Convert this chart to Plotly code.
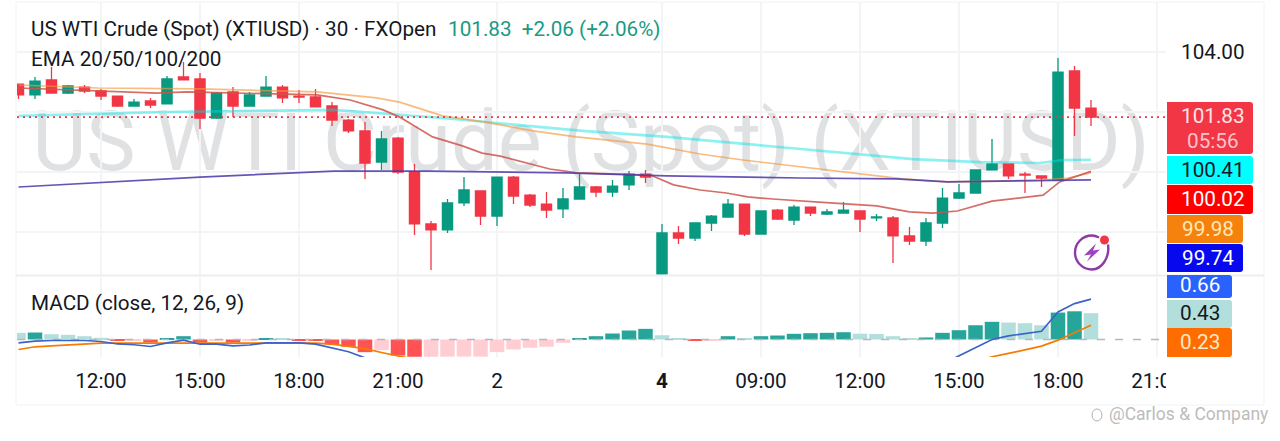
import plotly.graph_objects as go

W, H = 1280, 441

opens = [102.93,102.57,103.07,102.63,102.83,102.70,102.53,102.20,102.37,102.27,103.17,103.10,101.80,102.67,102.20,102.53,102.83,102.53,102.50,102.20,101.73,101.37,100.33,101.13,100.00,98.27,98.07,98.97,99.37,98.53,99.83,99.23,98.93,98.77,99.10,99.50,99.33,99.57,99.93,96.60,97.97,97.80,98.30,98.50,98.93,97.93,98.73,98.40,98.83,98.60,98.63,98.70,98.47,98.47,97.87,97.70,98.30,99.13,99.30,100.07,100.27,99.93,99.87,99.73,103.37,102.13]
highs = [102.93,103.17,103.50,102.90,102.90,102.77,102.53,102.43,102.47,103.20,103.67,103.30,102.67,102.83,102.67,103.20,102.90,102.73,102.77,102.33,101.77,101.67,101.37,101.17,100.27,98.37,99.10,99.83,99.37,99.83,99.87,99.27,99.33,99.47,99.93,99.53,99.73,100.03,100.07,98.27,98.20,98.30,98.57,99.10,98.93,98.70,98.77,98.90,98.83,98.77,99.00,98.70,98.60,98.53,98.17,98.47,99.47,99.60,100.07,101.10,100.27,100.00,99.87,103.80,103.53,102.40]
lows = [102.43,102.43,102.63,102.60,102.63,102.40,102.17,102.20,102.13,102.27,103.07,101.43,101.77,101.83,102.20,102.53,102.30,102.30,102.17,101.53,101.30,99.77,100.07,99.93,97.90,96.73,97.97,98.87,98.23,98.20,98.93,98.83,98.47,98.47,99.10,99.17,99.17,99.40,99.63,96.57,97.60,97.70,98.03,98.50,97.87,97.93,98.40,98.23,98.53,98.57,98.63,98.00,98.37,96.97,97.57,97.53,98.13,99.10,99.30,100.07,99.77,99.30,99.50,99.73,101.20,101.53]
closes = [102.57,103.03,102.63,102.87,102.70,102.53,102.20,102.33,102.23,103.10,103.07,101.80,102.63,102.20,102.57,102.83,102.47,102.50,102.17,101.73,101.37,100.30,101.10,100.00,98.27,98.07,98.97,99.40,98.53,99.83,99.20,98.90,98.73,99.10,99.50,99.33,99.53,99.93,99.83,97.97,97.80,98.30,98.53,98.93,97.93,98.70,98.43,98.83,98.63,98.67,98.73,98.43,98.50,97.87,97.70,98.30,99.13,99.30,100.07,100.27,99.87,99.90,99.80,103.33,102.13,101.83]

ema20_x = [0,5,8.4,10.2,13,18.1,20.1,22.1,23.1,25.1,26.9,28.1,29.2,30.8,32.2,33.9,36.3,38.3,39.7,41.3,42.9,44.2,45.7,47.4,49.2,52,54,55.4,56.9,59,62.1,63.1,65]
ema20 = [102.80,102.70,102.63,102.67,102.63,102.57,102.40,102.07,101.83,101.17,100.87,100.63,100.53,100.30,100.10,99.97,99.93,99.90,99.57,99.40,99.30,99.17,99.10,99.03,98.97,98.87,98.67,98.63,98.70,99.03,99.23,99.67,100.02]
ema50_x = [0,4.8,11,18.1,21.7,23.1,25.7,28.2,31.2,33.8,38.1,41.3,43.9,47.4,50.2,53.6,56.3,60.1,62.1,63.6,65]
ema50 = [102.90,102.80,102.77,102.67,102.47,102.33,101.87,101.67,101.37,101.17,100.93,100.60,100.40,100.17,100.00,99.77,99.67,99.70,99.73,99.80,99.98]
ema100_x = [0,9,19.1,21.7,25,25.7,30.2,34.2,39.3,43.3,47.4,50.2,54.2,58.3,61.9,63.3,65]
ema100 = [101.87,102.00,102.07,101.97,101.83,101.80,101.57,101.37,101.17,100.97,100.77,100.63,100.43,100.33,100.30,100.40,100.41]
ema200_x = [0,11,19.1,24.9,33.2,39.3,47.4,53.2,56.3,65]
ema200 = [99.50,99.83,100.03,100.03,99.97,99.87,99.80,99.77,99.67,99.74]

hist = [.109,.114,.086,.077,.054,.028,-.024,-.024,-.049,.016,.054,-.049,-.024,-.049,-.024,.016,.011,-.011,-.024,-.082,-.119,-.207,-.174,-.261,-.282,-.282,-.28,-.28,-.28,-.207,-.163,-.135,-.119,-.054,.016,.054,.098,.147,.174,.07,.011,-.011,-.011,.054,.016,.054,.065,.093,.103,.109,.119,.095,.091,.054,.016,.033,.109,.152,.233,.289,.277,.266,.233,.44,.461,.43]
macd_x = list(range(0, 23)) + list(range(56, 66))
macd = [-.054,-.028,-.016,-.016,-.016,-.033,-.073,-.086,-.114,-.054,-.011,-.077,-.077,-.103,-.09,-.054,-.054,-.054,-.077,-.142,-.2,-.3,-.4,-.4,-.266,-.13,0,.06,.098,.135,.451,.587,.66]
signal_x = list(range(0, 26)) + list(range(58, 66))
signal = [-.163,-.119,-.105,-.09,-.077,-.06,-.06,-.06,-.06,-.062,-.064,-.065,-.064,-.063,-.062,-.06,-.06,-.06,-.06,-.076,-.109,-.15,-.212,-.272,-.33,-.38,-.36,-.282,-.228,-.174,-.109,-.011,.114,.233]

tick_idx = [5,11,17,23,29,39,45,51,57,63,69]
tick_txt = ["12:00","15:00","18:00","21:00","2","<b>4</b>","09:00","12:00","15:00","18:00","21:00"]
grid_prices = [104,102,100,98]
last_price = 101.83

GREEN, RED = "#089981", "#F23645"
FONT = "Roboto"
INK = "#131722"
FS = 20.7

def fx(x): return x / W
def fy(y): return 1 - y / H

PL, PR = 17, 1166
idx0, step = 18.5, 16.5
xrange_ = [(PL - idx0) / step, (PR - idx0) / step]

fig = go.Figure()

hist_colors = []
prev = None
for v in hist:
    rising = prev is not None and v >= prev
    if v >= 0:
        hist_colors.append("#26a69a" if rising else "#b2dfdb")
    else:
        hist_colors.append("#ffcdd2" if rising else "#ff5252")
    prev = v

fig.add_trace(go.Candlestick(
    x=list(range(len(opens))), open=opens, high=highs, low=lows, close=closes,
    increasing=dict(line=dict(color=GREEN, width=1.3), fillcolor=GREEN),
    decreasing=dict(line=dict(color=RED, width=1.3), fillcolor=RED),
    whiskerwidth=0, xaxis="x", yaxis="y", hoverinfo="skip"))

def line(x, y, color, w=1.6, xa="x", ya="y", dash=None):
    fig.add_trace(go.Scatter(x=x, y=y, mode="lines", xaxis=xa, yaxis=ya, hoverinfo="skip",
                             line=dict(color=color, width=w, dash=dash)))

line(ema100_x, ema100, "rgba(0,225,225,0.45)", 2.6)
line(ema50_x, ema50, "rgba(245,150,60,0.65)", 1.7)
line(ema20_x, ema20, "rgba(205,85,75,0.85)", 1.7)
line(ema200_x, ema200, "rgba(75,55,170,0.85)", 1.7)
line(xrange_, [last_price, last_price], RED, 1.6, dash="2px,4px")

fig.add_trace(go.Bar(x=list(range(len(hist))), y=hist, width=0.88, xaxis="x2", yaxis="y2",
                     marker=dict(color=hist_colors, line=dict(width=0)), hoverinfo="skip"))
line(xrange_, [0, 0], "#b5b8c0", 1.4, "x2", "y2", dash="8px,10px")
line(signal_x, signal, "#f57c00", 1.7, "x2", "y2")
line(macd_x, macd, "#3b63c9", 1.7, "x2", "y2")

shapes, ann = [], []

def rrect(x0, y0, x1, y1, color, r=3):
    p = (f"M{fx(x0+r)},{fy(y0)} L{fx(x1-r)},{fy(y0)} Q{fx(x1)},{fy(y0)} {fx(x1)},{fy(y0+r)} "
         f"L{fx(x1)},{fy(y1-r)} Q{fx(x1)},{fy(y1)} {fx(x1-r)},{fy(y1)} "
         f"L{fx(x0)},{fy(y1)} L{fx(x0)},{fy(y0)} Z")
    shapes.append(dict(type="path", xref="paper", yref="paper", path=p,
                       fillcolor=color, line=dict(width=0), layer="above"))

def text(x, y, s, size=FS, color=INK, anchor="left"):
    ann.append(dict(xref="paper", yref="paper", x=fx(x), y=fy(y), text=s, showarrow=False,
                    xanchor=anchor, yanchor="middle", font=dict(family=FONT, size=size, color=color),
                    borderpad=0, borderwidth=0))

shapes.append(dict(type="rect", xref="paper", yref="paper", x0=fx(37), x1=fx(1145), y0=fy(175), y1=fy(95),
                   line=dict(width=0), fillcolor="rgba(0,0,0,0)", layer="below",
                   label=dict(text="US WTI Crude (Spot) (XTIUSD)", textposition="middle center",
                              font=dict(family=FONT, size=83, color="#e0e1e3"))))
shapes.append(dict(type="rect", xref="paper", yref="paper", x0=fx(16), x1=fx(1264), y0=fy(2), y1=fy(405),
                   line=dict(color="#f1f2f5", width=1), layer="below"))
shapes.append(dict(type="line", xref="paper", yref="paper", x0=fx(16), x1=fx(1264), y0=fy(275.5), y1=fy(275.5),
                   line=dict(color="#eceef1", width=2), layer="above"))
shapes.append(dict(type="rect", xref="paper", yref="paper", x0=fx(PR), x1=fx(1263), y0=fy(360), y1=fy(403),
                   line=dict(width=0), fillcolor="white", layer="above"))

rrect(1167, 102, 1253, 154, "#F23645")
rrect(1167, 156, 1253, 184, "#00FFFF")
rrect(1167, 185, 1253, 214, "#FF0000")
rrect(1167, 215, 1243, 243, "#F5820C")
rrect(1167, 244, 1243, 272, "#0808EE")
rrect(1167, 275, 1232, 298, "#2962FF")
rrect(1167, 300, 1232, 328, "#B2DFDB")
rrect(1167, 328, 1232, 357, "#FF6D00")

cx, cy, R = 1092, 252.5, 17
k = 0.5523 * R
arc = (f"M{fx(cx+R-1)},{fy(cy-8)} C{fx(cx+R+1)},{fy(cy+k-4)} {fx(cx+k)},{fy(cy+R)} {fx(cx)},{fy(cy+R)} "
       f"C{fx(cx-k)},{fy(cy+R)} {fx(cx-R)},{fy(cy+k)} {fx(cx-R)},{fy(cy)} "
       f"C{fx(cx-R)},{fy(cy-k)} {fx(cx-k)},{fy(cy-R)} {fx(cx)},{fy(cy-R)} "
       f"C{fx(cx+3)},{fy(cy-R)} {fx(cx+5)},{fy(cy-R+1)} {fx(cx+7)},{fy(cy-R+2)}")
shapes.append(dict(type="path", xref="paper", yref="paper", path=arc, line=dict(color="#8E3AA6", width=2.4), layer="above"))
bolt = (f"M{fx(cx+4)},{fy(cy-9)} L{fx(cx-8)},{fy(cy+3)} L{fx(cx-1)},{fy(cy+2)} L{fx(cx-5)},{fy(cy+9)} "
        f"L{fx(cx+8)},{fy(cy-3)} L{fx(cx+1)},{fy(cy-2)} Z")
shapes.append(dict(type="path", xref="paper", yref="paper", path=bolt, fillcolor="#A13FC0", line=dict(width=0), layer="above"))
shapes.append(dict(type="circle", xref="paper", yref="paper", x0=fx(1100), x1=fx(1109), y0=fy(235.5), y1=fy(244.5),
                   fillcolor="#F23645", line=dict(width=0), layer="above"))
shapes.append(dict(type="circle", xref="paper", yref="paper", x0=fx(1092), x1=fx(1102), y0=fy(409), y1=fy(421),
                   line=dict(color="#b0b0b0", width=1), layer="above"))

text(31, 29, "US WTI Crude (Spot) (XTIUSD) · 30 · FXOpen")
text(448, 29, "101.83  +2.06 (+2.06%)", color="#1a9a80")
text(31, 59, "EMA 20/50/100/200")
text(31, 303, "MACD (close, 12, 26, 9)")
text(1213, 52, "104.00", anchor="center")
text(1213, 116, "101.83", color="#FFE4E6", anchor="center")
text(1213, 141, "05:56", color="#FBC4CA", anchor="center")
text(1213, 170, "100.41", anchor="center")
text(1213, 199, "100.02", color="#FFFFFF", anchor="center")
text(1208, 229, "99.98", color="#FFE9B8", anchor="center")
text(1208, 258, "99.74", color="#FFFFFF", anchor="center")
text(1200, 285, "0.66", color="#FFFFFF", anchor="center")
text(1200, 313, "0.43", anchor="center")
text(1200, 342, "0.23", color="#FFE9C8", anchor="center")
text(1109, 414, "@Carlos &amp; Company", size=17.5, color="#bcbcbc")

PANE1_TOP, PANE1_BOT = 2, 275
PANE2_TOP, PANE2_BOT = 277, 357
GRID = "#f3f4f6"

def p1(y): return 104 - (y - 52) / 30
def p2(y): return (339.5 - y) / 61.2

fig.update_layout(
    width=W, height=H, autosize=False, margin=dict(l=0, r=0, t=0, b=0, pad=0), showlegend=False,
    paper_bgcolor="white", plot_bgcolor="white", boxgap=0.12,
    shapes=shapes, annotations=ann,
    xaxis=dict(domain=[fx(PL), fx(PR)], range=xrange_, anchor="y", showticklabels=False, ticks="",
               tickvals=tick_idx, showgrid=True, gridcolor=GRID, gridwidth=1.5, zeroline=False,
               rangeslider=dict(visible=False), showline=False, automargin=False),
    yaxis=dict(domain=[fy(PANE1_BOT), fy(PANE1_TOP)], range=[p1(PANE1_BOT), p1(PANE1_TOP)], anchor="x",
               tickvals=grid_prices, showticklabels=False, ticks="", showgrid=True, gridcolor=GRID,
               gridwidth=1.5, zeroline=False, showline=False, automargin=False),
    xaxis2=dict(domain=[fx(PL), fx(PR)], range=xrange_, anchor="y2", tickvals=tick_idx, ticktext=tick_txt,
                ticks="outside", ticklen=5, tickcolor="rgba(0,0,0,0)", tickangle=0,
                tickfont=dict(family=FONT, size=FS, color=INK), showgrid=True, gridcolor=GRID, gridwidth=1.5,
                zeroline=False, showline=False, automargin=False),
    yaxis2=dict(domain=[fy(PANE2_BOT), fy(PANE2_TOP)], range=[p2(PANE2_BOT), p2(PANE2_TOP)], anchor="x2",
                showticklabels=False, ticks="", showgrid=False, zeroline=False, showline=False, automargin=False),
)

fig.write_html("out.html", config=dict(displayModeBar=False),
               post_script="document.body.style.margin='0';document.body.style.overflow='hidden';")
